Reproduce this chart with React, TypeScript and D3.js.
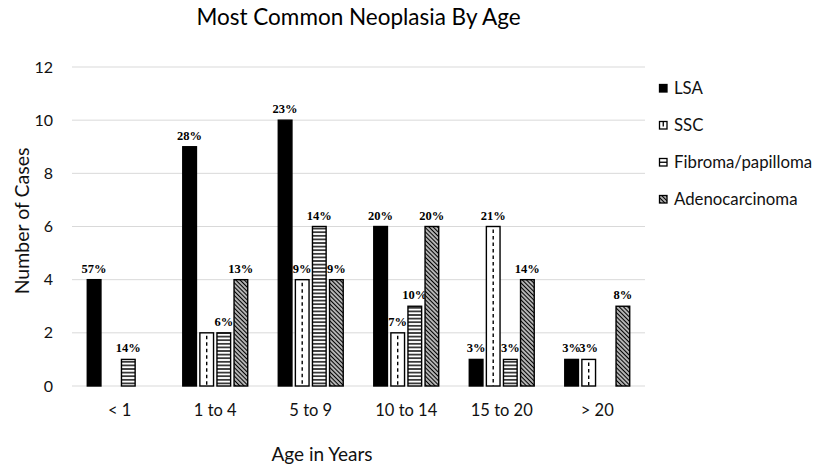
import { useEffect, useRef } from "react";
import * as d3 from "d3";

const ages = ["< 1", "1 to 4", "5 to 9", "10 to 14", "15 to 20", "> 20"];
const seriesNames = ["LSA", "SSC", "Fibroma/papilloma", "Adenocarcinoma"];

const lsa = [4, 9, 10, 6, 1, 1];
const ssc = [0, 2, 4, 2, 6, 1];
const fibroma = [1, 2, 6, 3, 1, 0];
const adeno = [0, 4, 4, 6, 4, 3];

const lsaLabels = ["57%", "28%", "23%", "20%", "3%", "3%"];
const sscLabels = ["", "", "9%", "7%", "21%", "3%"];
const fibromaLabels = ["14%", "6%", "14%", "10%", "3%", ""];
const adenoLabels = ["", "13%", "9%", "20%", "14%", "8%"];

const yTicks = [0, 2, 4, 6, 8, 10, 12];

const sans = "Lato, 'Open Sans', sans-serif";

export default function App() {
  const svgRef = useRef<SVGSVGElement>(null);

  useEffect(() => {
    if (!svgRef.current) return;
    const svg = d3.select(svgRef.current);
    svg.selectAll("*").remove();

    const width = 829;
    const height = 476;
    const margin = { top: 67, right: 184, bottom: 90, left: 72 };
    const textColor = "#111";
    const gridColor = "#d9d9d9";

    const values = [lsa, ssc, fibroma, adeno];
    const labels = [lsaLabels, sscLabels, fibromaLabels, adenoLabels];

    const x0 = d3
      .scaleBand()
      .domain(ages)
      .range([margin.left, width - margin.right])
      .paddingInner(0.32)
      .paddingOuter(0.16);

    const x1 = d3
      .scaleBand()
      .domain(seriesNames)
      .range([0, x0.bandwidth()])
      .paddingInner(0.2);

    const y = d3
      .scaleLinear()
      .domain([0, 12])
      .range([height - margin.bottom, margin.top]);

    // patterns
    const defs = svg.append("defs");
    const hz = defs
      .append("pattern")
      .attr("id", "pat-horiz")
      .attr("patternUnits", "userSpaceOnUse")
      .attr("width", 6)
      .attr("height", 3.6);
    hz.append("rect").attr("width", 6).attr("height", 3.6).attr("fill", "#fff");
    hz.append("line")
      .attr("x1", 0)
      .attr("x2", 6)
      .attr("y1", 1.8)
      .attr("y2", 1.8)
      .attr("stroke", "#000")
      .attr("stroke-width", 1.4);

    const dg = defs
      .append("pattern")
      .attr("id", "pat-diag")
      .attr("patternUnits", "userSpaceOnUse")
      .attr("width", 3)
      .attr("height", 6)
      .attr("patternTransform", "rotate(-45)");
    dg.append("rect").attr("width", 3).attr("height", 6).attr("fill", "#fff");
    dg.append("line")
      .attr("x1", 1.5)
      .attr("x2", 1.5)
      .attr("y1", 0)
      .attr("y2", 6)
      .attr("stroke", "#000")
      .attr("stroke-width", 1.6);

    // grid
    svg
      .append("g")
      .selectAll("line")
      .data(yTicks)
      .join("line")
      .attr("x1", margin.left)
      .attr("x2", width - margin.right)
      .attr("y1", (d) => y(d))
      .attr("y2", (d) => y(d))
      .attr("stroke", gridColor)
      .attr("stroke-width", 1);

    // y axis
    const yAxis = svg
      .append("g")
      .attr("transform", `translate(${margin.left - 12},0)`)
      .call(d3.axisLeft(y).tickValues(yTicks).tickSize(0).tickPadding(7));
    yAxis.select(".domain").remove();
    yAxis
      .selectAll(".tick text")
      .attr("fill", textColor)
      .attr("font-size", 16)
      .attr("font-family", sans);

    // x axis
    const xAxis = svg
      .append("g")
      .attr("transform", `translate(0,${y(0)})`)
      .call(d3.axisBottom(x0).tickSize(0).tickPadding(18));
    xAxis.select(".domain").remove();
    xAxis
      .selectAll(".tick text")
      .attr("fill", textColor)
      .attr("font-size", 16.5)
      .attr("font-family", sans);

    const fills = ["#000", "#fff", "url(#pat-horiz)", "url(#pat-diag)"];

    const groups = svg
      .append("g")
      .selectAll("g")
      .data(ages)
      .join("g")
      .attr("transform", (d) => `translate(${x0(d)},0)`);

    seriesNames.forEach((name, si) => {
      const bars = groups
        .append("g")
        .datum((_, i) => ({ v: values[si][i], label: labels[si][i] }));
      bars
        .filter((d: any) => d.v > 0)
        .append("rect")
        .attr("x", x1(name)!)
        .attr("width", x1.bandwidth())
        .attr("y", (d: any) => y(d.v))
        .attr("height", (d: any) => y(0) - y(d.v))
        .attr("fill", fills[si])
        .attr("stroke", "#000")
        .attr("stroke-width", 1.4);
      if (si === 1) {
        bars
          .filter((d: any) => d.v > 0)
          .append("line")
          .attr("x1", x1(name)! + x1.bandwidth() / 2)
          .attr("x2", x1(name)! + x1.bandwidth() / 2)
          .attr("y1", (d: any) => y(d.v) + 3)
          .attr("y2", y(0))
          .attr("stroke", "#000")
          .attr("stroke-width", 1.4)
          .attr("stroke-dasharray", "3.5,3");
      }
      bars
        .filter((d: any) => d.label !== "")
        .append("text")
        .attr("x", x1(name)! + x1.bandwidth() / 2)
        .attr("y", (d: any) => y(d.v) - 7)
        .attr("text-anchor", "middle")
        .attr("font-family", "'Liberation Serif', serif")
        .attr("font-weight", "bold")
        .attr("font-size", 12.5)
        .attr("fill", "#000")
        .text((d: any) => d.label);
    });

    // title
    svg
      .append("text")
      .attr("x", (margin.left + width - margin.right) / 2)
      .attr("y", 25)
      .attr("text-anchor", "middle")
      .attr("font-family", sans)
      .attr("font-size", 22.5)
      .attr("fill", "#000")
      .text("Most Common Neoplasia By Age");

    // axis titles
    svg
      .append("text")
      .attr("x", 322)
      .attr("y", 461)
      .attr("text-anchor", "middle")
      .attr("font-family", sans)
      .attr("font-size", 19)
      .attr("fill", textColor)
      .text("Age in Years");

    svg
      .append("text")
      .attr("transform", `translate(29,221) rotate(-90)`)
      .attr("text-anchor", "middle")
      .attr("font-family", sans)
      .attr("font-size", 19.5)
      .attr("fill", textColor)
      .text("Number of Cases");

    // legend
    const legend = svg
      .append("g")
      .attr("transform", "translate(659,84)")
      .selectAll("g")
      .data(seriesNames)
      .join("g")
      .attr("transform", (_, i) => `translate(0,${i * 37})`);
    legend
      .append("rect")
      .attr("x", 0.5)
      .attr("y", 0.5)
      .attr("width", 7.5)
      .attr("height", 7.5)
      .attr("fill", (_, i) => (i === 0 ? "#000" : i === 3 ? "url(#pat-diag)" : "#fff"))
      .attr("stroke", "#000")
      .attr("stroke-width", 1.3);
    legend
      .filter((_, i) => i === 1)
      .append("line")
      .attr("x1", 4.25)
      .attr("x2", 4.25)
      .attr("y1", 0.5)
      .attr("y2", 5.5)
      .attr("stroke", "#000")
      .attr("stroke-width", 1.3);
    legend
      .filter((_, i) => i === 2)
      .append("line")
      .attr("x1", 0.5)
      .attr("x2", 8)
      .attr("y1", 4.25)
      .attr("y2", 4.25)
      .attr("stroke", "#000")
      .attr("stroke-width", 1.3);
    legend
      .append("text")
      .attr("x", 15)
      .attr("y", 10)
      .attr("font-family", sans)
      .attr("font-size", 16.8)
      .attr("fill", textColor)
      .text((d) => d);
  }, []);

  return (
    <svg
      ref={svgRef}
      width={829}
      height={476}
      viewBox="0 0 829 476"
      style={{ position: "absolute", left: 0, top: 0, background: "#fff", display: "block" }}
    />
  );
}
